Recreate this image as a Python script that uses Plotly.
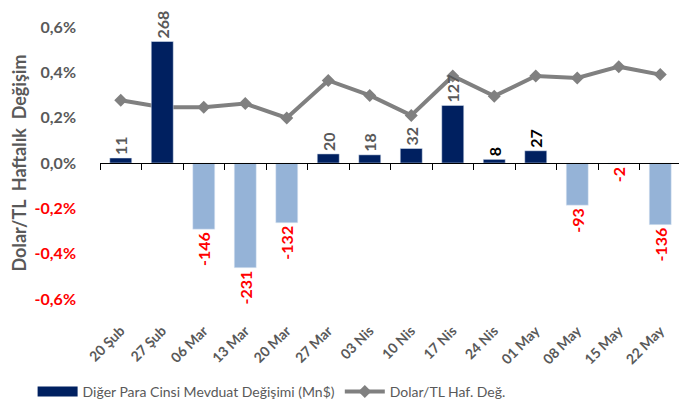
import plotly.graph_objects as go

weeks = ["20 Şub", "27 Şub", "06 Mar", "13 Mar", "20 Mar", "27 Mar", "03 Nis",
         "10 Nis", "17 Nis", "24 Nis", "01 May", "08 May", "15 May", "22 May"]
deposit_change = [11, 268, -146, -231, -132, 20, 18, 32, 127, 8, 27, -93, -2, -136]  # Mn$
usdtry_change = [0.277, 0.246, 0.246, 0.262, 0.199, 0.364, 0.298,
                 0.210, 0.384, 0.295, 0.384, 0.375, 0.425, 0.390]  # %
y_ticks = [-0.6, -0.4, -0.2, 0.0, 0.2, 0.4, 0.6]
black_labels = ["24 Nis", "01 May"]

FONT = "Lato"
GREY = "#595959"
RED = "#FF0000"
NAVY = "#002060"
BAR_NAME = "Diğer Para Cinsi Mevduat Değişimi (Mn$)"


def tick_text(v):
    s = f"{v:.1f}".replace(".", ",") + "%"
    if v < 0:
        return f'<span style="color:{RED}">{s}</span>'
    return s


def label_color(week, v):
    if v < 0:
        return RED
    if week in black_labels:
        return "#000000"
    return GREY


def generate_plot():
    fig = go.Figure()
    fig.add_trace(go.Bar(
        x=weeks, y=deposit_change, xaxis="x2", yaxis="y2",
        name=BAR_NAME, showlegend=False,
        marker=dict(color=[NAVY if v >= 0 else "#95B3D7" for v in deposit_change]),
        width=0.53,
        text=[str(v) for v in deposit_change], textposition="outside", textangle=-90,
        constraintext="none", cliponaxis=False,
        textfont=dict(family=FONT, size=16, color=[label_color(w, v) for w, v in zip(weeks, deposit_change)],
                      weight="bold"),
    ))
    # wide legend swatch for the bars, like the excel legend
    fig.add_trace(go.Scatter(
        x=[None], y=[None], mode="lines", name=BAR_NAME,
        line=dict(color=NAVY, width=12), hoverinfo="skip",
    ))
    fig.add_trace(go.Scatter(
        x=weeks, y=usdtry_change, mode="lines+markers", name="Dolar/TL Haf. Değ.",
        line=dict(color="#808080", width=4),
        marker=dict(symbol="diamond", size=10, color="#808080"),
    ))
    # page body adds 8px, so the figure is drawn slightly smaller than the window
    fig.update_layout(
        width=679, height=399,
        margin=dict(l=92, r=6, t=19, b=108, autoexpand=False),
        plot_bgcolor="white", paper_bgcolor="white",
        font=dict(family=FONT, color=GREY),
        showlegend=True,
        legend=dict(orientation="h", x=-0.116, xanchor="left", y=-0.342, yanchor="middle",
                    font=dict(family=FONT, size=14, color=GREY), traceorder="normal",
                    itemwidth=40),
        xaxis=dict(type="category", range=[-0.5, 13.5], showline=False, ticks="",
                   tickangle=-45, tickfont=dict(family=FONT, size=14, color=GREY, weight="bold"),
                   ticklabelstandoff=20, automargin=False,
                   showgrid=False, zeroline=False),
        xaxis2=dict(type="category", range=[-0.5, 13.5], overlaying="x", anchor="free", position=0.5,
                    showline=True, linecolor="#000000", linewidth=1, ticks="outside", tickson="boundaries",
                    ticklen=6, tickcolor="#000000", showticklabels=False, showgrid=False, zeroline=False),
        yaxis=dict(range=[-0.6, 0.6], tickvals=y_ticks, ticktext=[tick_text(v) for v in y_ticks],
                   tickfont=dict(family=FONT, size=16, color=GREY, weight="bold"),
                   showgrid=False, zeroline=False, showline=False, ticklabelstandoff=23,
                   automargin=False,
                   title=dict(text="Dolar/TL  Haftalık  Değişim", standoff=8,
                              font=dict(family=FONT, size=18, color=GREY, weight="bold"))),
        yaxis2=dict(range=[-300, 300], overlaying="y", visible=False),
    )
    fig.write_html("out.html")


if __name__ == "__main__":
    generate_plot()
